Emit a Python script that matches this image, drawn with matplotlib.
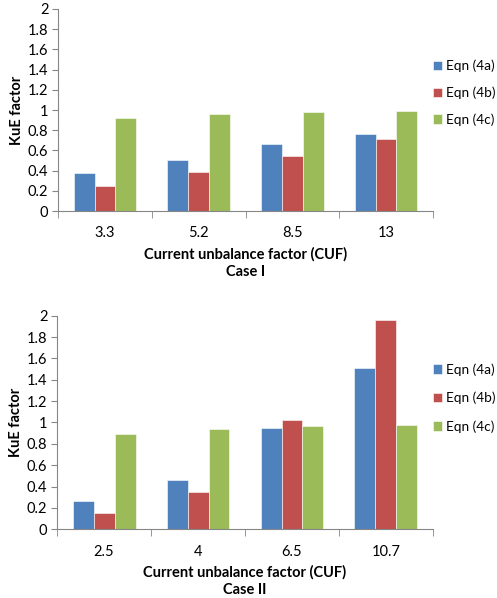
import matplotlib
matplotlib.use("Agg")
import matplotlib.pyplot as plt
import numpy as np

plt.rcParams["font.family"] = ["Lato", "DejaVu Sans"]

# ── data ─────────────────────────────────────────────────────────────────────
series = ["Eqn (4a)", "Eqn (4b)", "Eqn (4c)"]
colors = ["#4F81BD", "#C0504D", "#9BBB59"]

cuf_1 = ["3.3", "5.2", "8.5", "13"]
eq4a_1 = [0.38, 0.51, 0.66, 0.76]
eq4b_1 = [0.25, 0.39, 0.55, 0.71]
eq4c_1 = [0.92, 0.96, 0.98, 0.99]

cuf_2 = ["2.5", "4", "6.5", "10.7"]
eq4a_2 = [0.26, 0.46, 0.95, 1.51]
eq4b_2 = [0.15, 0.35, 1.02, 1.96]
eq4c_2 = [0.89, 0.94, 0.97, 0.98]

yticks = [0, 0.2, 0.4, 0.6, 0.8, 1, 1.2, 1.4, 1.6, 1.8, 2]
ytick_labels = ["0", "0.2", "0.4", "0.6", "0.8", "1", "1.2", "1.4", "1.6", "1.8", "2"]

# ── plot ─────────────────────────────────────────────────────────────────────
fig = plt.figure(figsize=(4.97, 5.98), dpi=100)
ax1 = fig.add_axes([0.117, 0.647, 0.754, 0.338])
ax2 = fig.add_axes([0.115, 0.115, 0.756, 0.357])

BAR_W = 0.223
FS = 10.5


def draw(ax, cats, vals, case, leg_y, leg_sp):
    x = np.arange(len(cats))
    for i, (v, c, name) in enumerate(zip(vals, colors, series)):
        ax.bar(x + (i - 1) * BAR_W, v, BAR_W, color=c, label=name,
               edgecolor="white", linewidth=0.4)
    ax.set_xlim(-0.5, len(cats) - 0.5)
    ax.set_ylim(0, 2)
    ax.set_yticks(yticks)
    ax.set_yticklabels(ytick_labels, fontsize=FS)
    ax.set_xticks(x)
    ax.set_xticklabels(cats, fontsize=FS)
    ax.set_xticks(np.arange(len(cats) + 1) - 0.5, minor=True)
    ax.tick_params(axis="x", which="major", length=0, pad=11)
    ax.tick_params(axis="x", which="minor", length=5, color="#868686",
                   direction="out")
    ax.tick_params(axis="y", length=4, color="#868686", pad=3)
    for s in ["top", "right"]:
        ax.spines[s].set_visible(False)
    for s in ["left", "bottom"]:
        ax.spines[s].set_color("#868686")
    ax.set_xlabel("Current unbalance factor (CUF)\n" + case,
                  fontsize=FS, fontweight="bold", labelpad=5, linespacing=1.25)
    ax.set_ylabel("KuE factor", fontsize=FS, fontweight="bold", labelpad=3)
    ax.legend(loc="center left", bbox_to_anchor=(0.985, leg_y), frameon=False,
              fontsize=9.8, handlelength=0.7, handleheight=0.7,
              handletextpad=0.25, labelspacing=leg_sp, borderaxespad=0)


draw(ax1, cuf_1, [eq4a_1, eq4b_1, eq4c_1], "Case I", 0.585, 1.05)
draw(ax2, cuf_2, [eq4a_2, eq4b_2, eq4c_2], "Case II", 0.615, 1.18)

fig.savefig("out.png", dpi=100)
